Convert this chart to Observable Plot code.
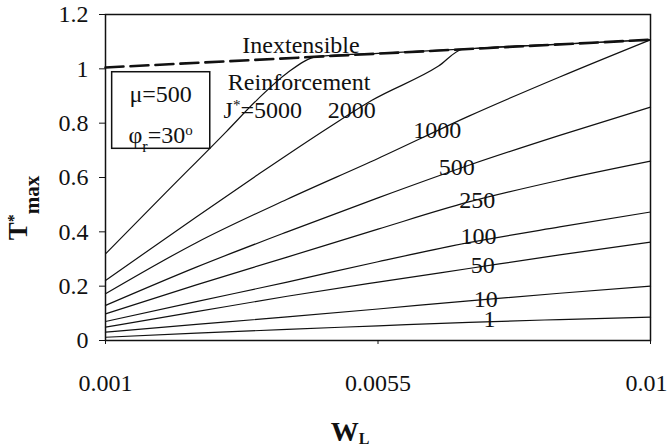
<!DOCTYPE html>
<html><head><meta charset="utf-8">
<script src="https://cdn.jsdelivr.net/npm/d3@7"></script>
<script src="https://cdn.jsdelivr.net/npm/@observablehq/plot@0.6"></script>
<style>
html,body{margin:0;padding:0;background:#fff;}
#chart{width:669px;height:447px;}
#chart svg, #chart svg text{font-family:"Liberation Serif","Times New Roman",serif;}
</style>
</head><body><div id="chart"></div>
<script>
// ---- data ----
const W = [0.001, 0.0025, 0.004, 0.0055, 0.007, 0.0085, 0.01];
const T1    = [0.012, 0.027, 0.041, 0.054, 0.067, 0.077, 0.086];
const T10   = [0.031, 0.059, 0.087, 0.116, 0.146, 0.174, 0.200];
const T50   = [0.049, 0.106, 0.163, 0.215, 0.265, 0.315, 0.362];
const T100  = [0.070, 0.143, 0.215, 0.290, 0.360, 0.418, 0.473];
const T250  = [0.098, 0.205, 0.307, 0.410, 0.510, 0.590, 0.660];
const T500  = [0.129, 0.270, 0.400, 0.525, 0.645, 0.755, 0.859];
const T1000 = [0.172, 0.360, 0.520, 0.670, 0.826, 0.970, 1.107];
const W2000 = [0.001, 0.0025, 0.0035, 0.0047, 0.0054, 0.0065, 0.0069, 0.0085, 0.01];
const T2000 = [0.221, 0.455, 0.608, 0.786, 0.884, 1.010, 1.072, 1.090, 1.107];
const W5000 = [0.001, 0.002, 0.003, 0.0035, 0.004, 0.0045, 0.0055, 0.007, 0.0085, 0.01];
const T5000 = [0.319, 0.545, 0.770, 0.885, 0.985, 1.045, 1.057, 1.074, 1.091, 1.107];
const WInext = [0.001, 0.01];
const TInext = [1.005, 1.107];

const xTicks = [0.001, 0.0055, 0.01];
const xTickLabels = ["0.001", "0.0055", "0.01"];
const yTicks = [0, 0.2, 0.4, 0.6, 0.8, 1, 1.2];
const yTickLabels = ["0", "0.2", "0.4", "0.6", "0.8", "1", "1.2"];

const curveLabels = ["1000", "500", "250", "100", "50", "10", "1"];
const curveLabelW = [0.00648, 0.00680, 0.00714, 0.00716, 0.00723, 0.00728, 0.00734];
const curveLabelT = [0.773, 0.637, 0.515, 0.383, 0.276, 0.151, 0.077];

const noteTexts = ["Inextensible", "Reinforcement", "J*=5000", "2000"];
const noteW = [0.00326, 0.00302, 0.00295, 0.00467];
const noteT = [1.086, 0.950, 0.847, 0.847];

const boxTexts = ["μ=500", "φr=30o"];
const boxTextW = [0.00191, 0.00191];
const boxTextT = [0.9075, 0.7545];

// ---- build tables ----
const series = [
  {J: "1", W: W, T: T1}, {J: "10", W: W, T: T10}, {J: "50", W: W, T: T50},
  {J: "100", W: W, T: T100}, {J: "250", W: W, T: T250}, {J: "500", W: W, T: T500},
  {J: "1000", W: W, T: T1000}, {J: "2000", W: W2000, T: T2000}, {J: "5000", W: W5000, T: T5000}
];
const rows = series.flatMap(s => s.W.map((w, i) => ({J: s.J, W: w, T: s.T[i]})));
const inext = WInext.map((w, i) => ({W: w, T: TInext[i]}));
const curveLab = curveLabels.map((t, i) => ({t, W: curveLabelW[i], T: curveLabelT[i]}));
const notes = noteTexts.map((t, i) => ({t, W: noteW[i], T: noteT[i]}));
const boxLab = boxTexts.map((t, i) => ({t, W: boxTextW[i], T: boxTextT[i]}));

const FONT = "Liberation Serif";

const chart = Plot.plot({
  width: 669, height: 447,
  marginLeft: 105, marginRight: 19, marginTop: 14, marginBottom: 107,
  style: {fontFamily: FONT, fontSize: "24px", background: "white", color: "#111"},
  x: {domain: [0.001, 0.01]},
  y: {domain: [0, 1.2]},
  marks: [
    Plot.line(rows, {x: "W", y: "T", z: "J", stroke: "#111", strokeWidth: 1.2, curve: "monotone-x"}),
    Plot.line(inext, {x: "W", y: "T", stroke: "#111", strokeWidth: 2.6, strokeDasharray: "18,7"}),
    Plot.rect([{}], {x1: 0.00111, x2: 0.00273, y1: 0.7056, y2: 0.9875, fill: "white", stroke: "#111", strokeWidth: 1.5}),
    Plot.text(boxLab, {x: "W", y: "T", text: "t", textAnchor: "middle", fontSize: 24, fontFamily: FONT, fill: "#111"}),
    Plot.text(notes, {x: "W", y: "T", text: "t", textAnchor: "start", fontSize: 24, fontFamily: FONT, fill: "#111"}),
    Plot.text(curveLab, {x: "W", y: "T", text: "t", textAnchor: "middle", fontSize: 24, fontFamily: FONT, fill: "#111"}),
    Plot.frame({stroke: "#111", strokeWidth: 1.5}),
    Plot.axisX({ticks: xTicks, tickFormat: d => xTickLabels[xTicks.indexOf(d)], tickSize: 4, tickPadding: 29, label: null, fontSize: 24, fontFamily: FONT}),
    Plot.axisY({ticks: yTicks, tickFormat: d => yTickLabels[yTicks.indexOf(d)], tickSize: 6, tickPadding: 11, label: null, fontSize: 24, fontFamily: FONT})
  ]
});
document.getElementById("chart").appendChild(chart);
chart.setAttribute("font-family", FONT);
chart.style.fontFamily = FONT;

chart.querySelectorAll("text").forEach(el => {
  el.setAttribute("font-family", FONT);
  const s = el.textContent;
  if (s === "J*=5000") {
    el.innerHTML = 'J<tspan baseline-shift="super" font-size="15">*</tspan>=5000';
  } else if (s === "φr=30o") {
    el.innerHTML = 'φ<tspan baseline-shift="sub" font-size="16">r</tspan>=30<tspan baseline-shift="super" font-size="15">o</tspan>';
  } else if (s === "0.01") {
    el.setAttribute("dx", "-4");
  }
});

// axis titles
const svg = d3.select(chart);
svg.append("text")
  .attr("transform", "translate(27,208) rotate(-90)")
  .attr("font-family", FONT).attr("font-weight", "bold").attr("font-size", 27).attr("fill", "#111")
  .html('T<tspan baseline-shift="super" font-size="16">*</tspan><tspan baseline-shift="sub" font-size="21">max</tspan>');
svg.append("text")
  .attr("x", 350).attr("y", 441)
  .attr("font-family", FONT).attr("font-weight", "bold").attr("font-size", 28).attr("fill", "#111")
  .html('W<tspan dy="3" font-size="16">L</tspan>');
</script>
</body></html>
